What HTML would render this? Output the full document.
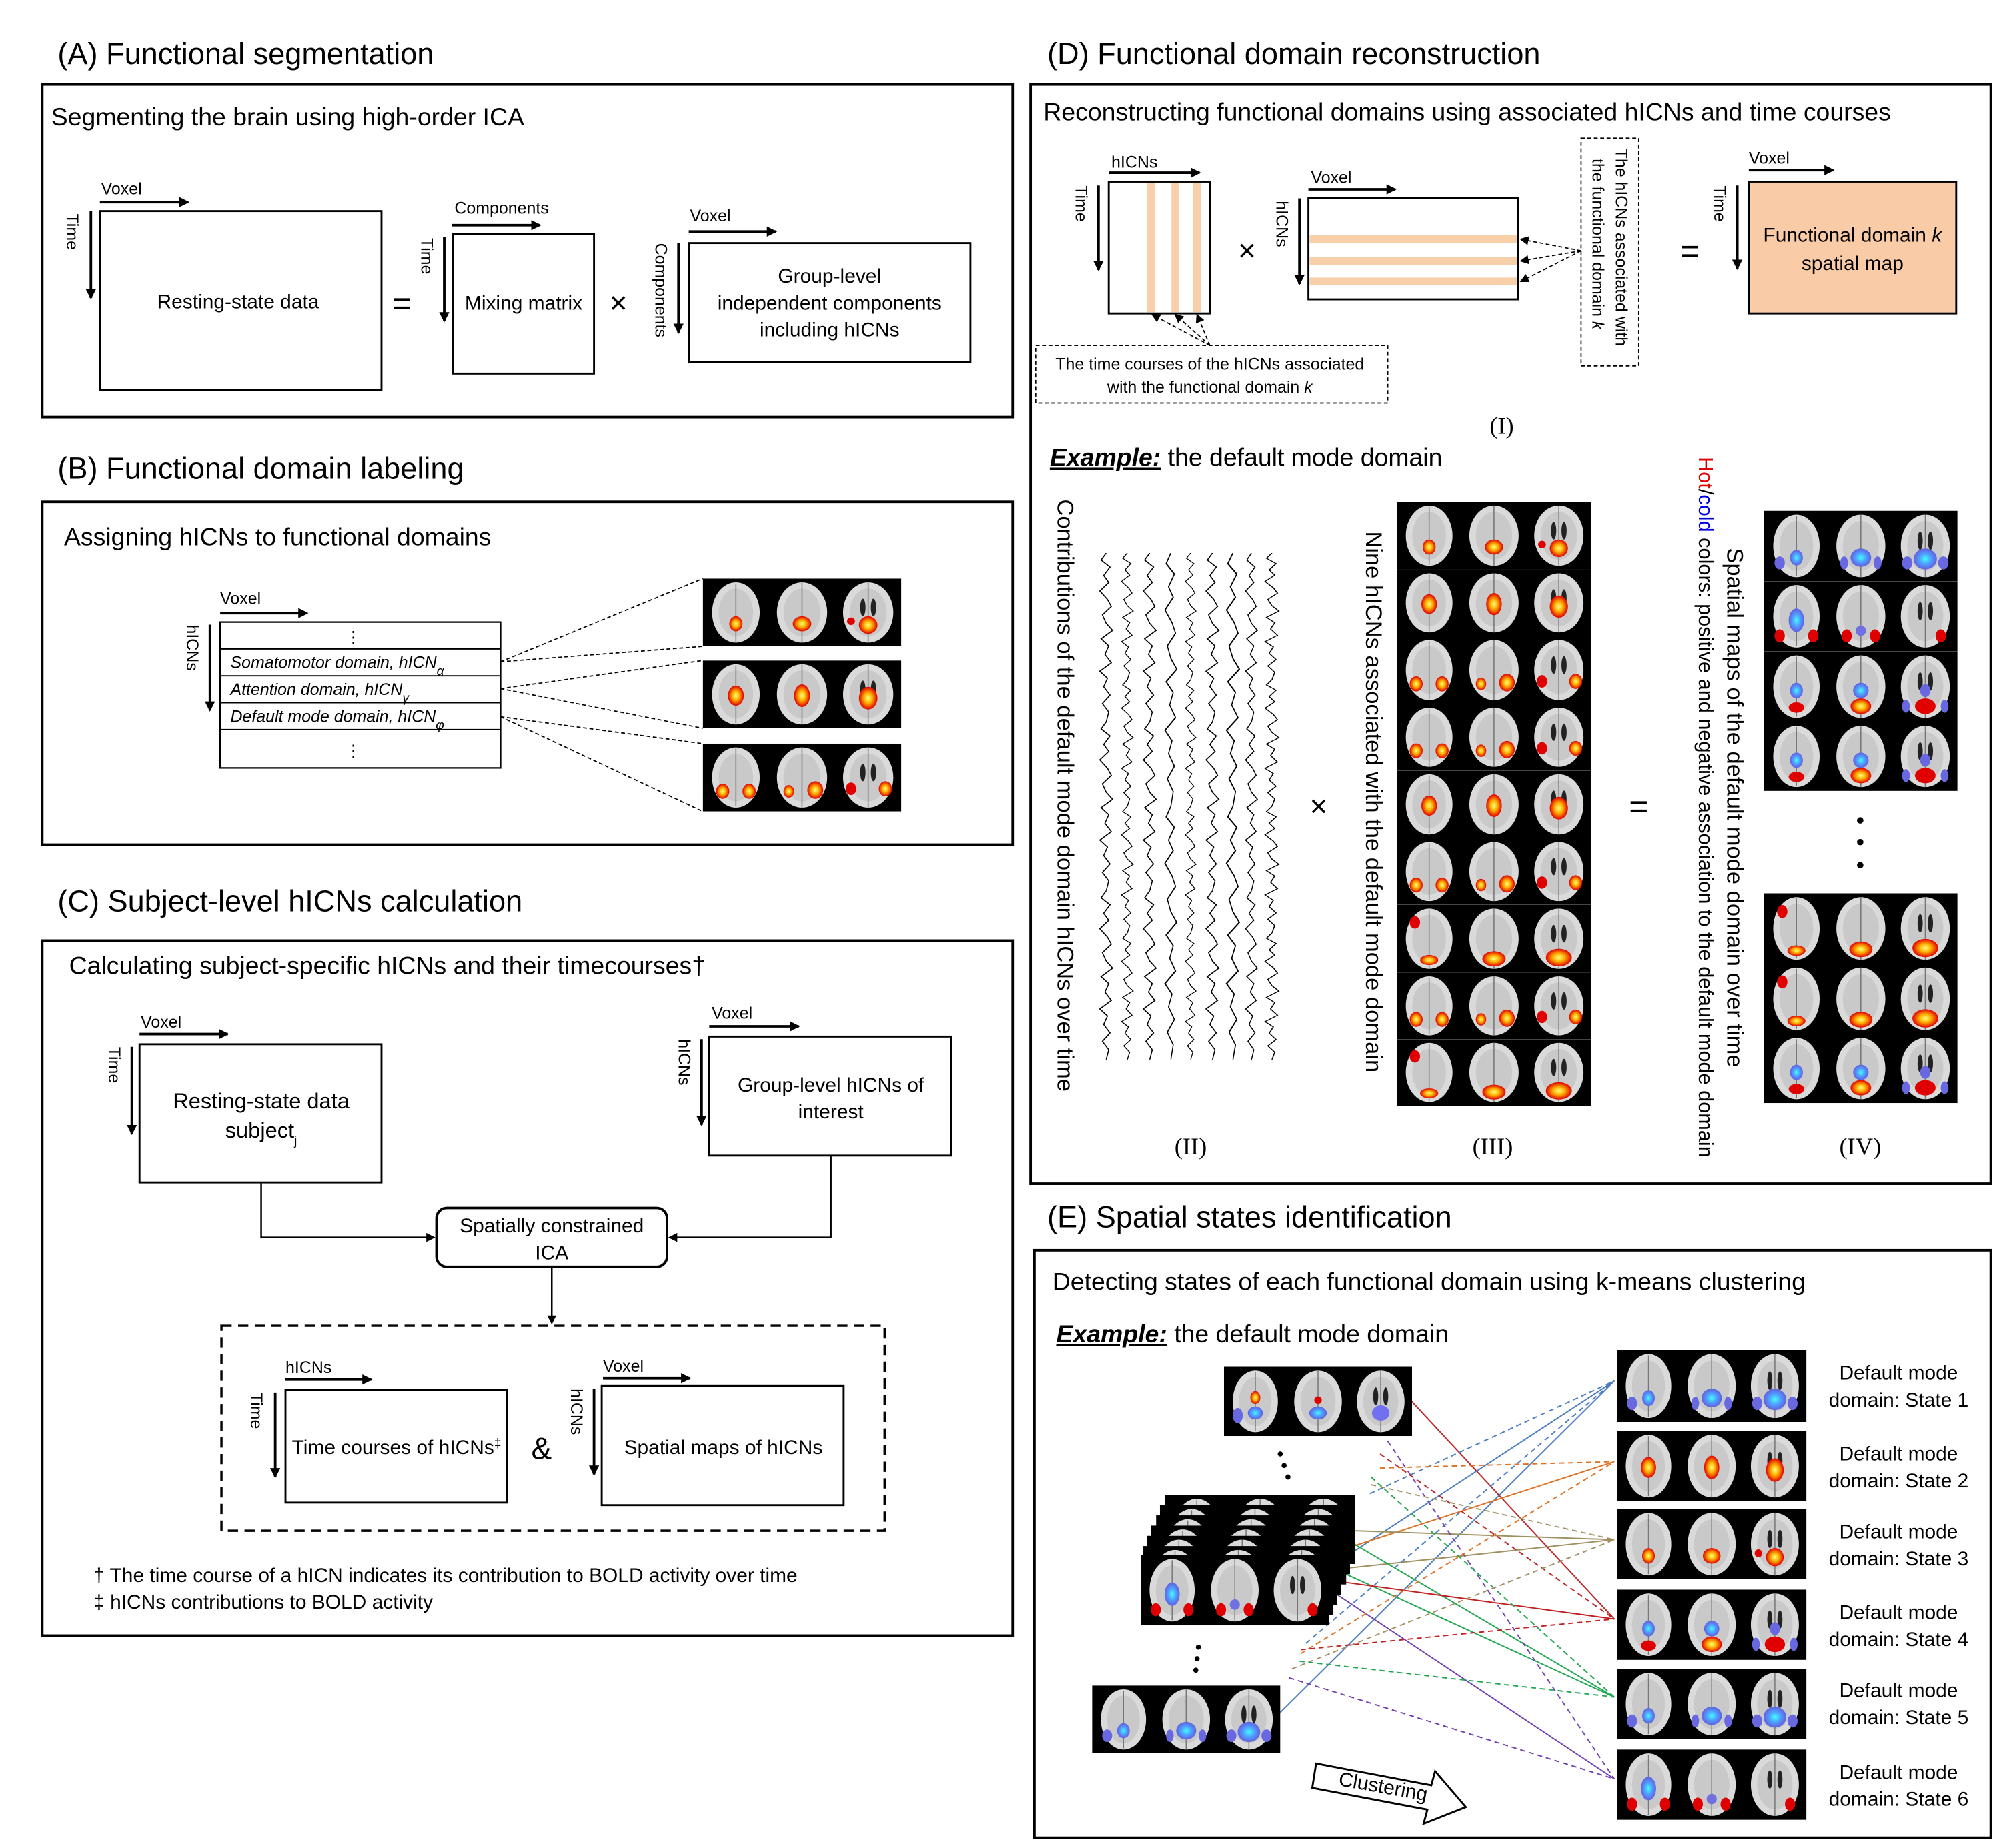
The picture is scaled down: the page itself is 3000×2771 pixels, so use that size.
<!DOCTYPE html>
<html><head><meta charset="utf-8"><style>
html,body{margin:0;padding:0;background:#fff}
svg{display:block}
text{font-family:"Liberation Sans",sans-serif;fill:#000}
.t{font-size:23.5px}.s{font-size:19.5px}.m{font-size:15.6px}.sm{font-size:13px}
.serif{font-family:"Liberation Serif",serif;font-size:19px}
</style></head><body>
<svg xmlns="http://www.w3.org/2000/svg" xmlns:xlink="http://www.w3.org/1999/xlink" width="3000" height="2771" viewBox="0 0 1563 1444" preserveAspectRatio="none">
<defs>
<marker id="ah" markerWidth="8" markerHeight="8" refX="7" refY="4" orient="auto" markerUnits="userSpaceOnUse"><path d="M0,0 L8,4 L0,8 z" fill="#000"/></marker>
<marker id="ahs" markerWidth="7" markerHeight="7" refX="6" refY="3.5" orient="auto" markerUnits="userSpaceOnUse"><path d="M0,0 L7,3.5 L0,7 z" fill="#000"/></marker>
<radialGradient id="hot"><stop offset="0" stop-color="#ffff80"/><stop offset="0.45" stop-color="#ffb000"/><stop offset="1" stop-color="#e00000"/></radialGradient>
<radialGradient id="cold"><stop offset="0" stop-color="#40ffff"/><stop offset="0.5" stop-color="#50a0ff"/><stop offset="1" stop-color="#6060e0"/></radialGradient>
<g id="base">
<rect x="0" y="0" width="150" height="54" fill="#000"/>
<ellipse cx="25" cy="27" rx="18" ry="24" fill="#dadada"/>
<ellipse cx="75" cy="27" rx="19" ry="24" fill="#dadada"/>
<ellipse cx="125" cy="27" rx="19" ry="24" fill="#dadada"/>
<ellipse cx="25" cy="27" rx="13" ry="19" fill="#b8b8b8" opacity="0.5"/>
<ellipse cx="75" cy="27" rx="14" ry="19" fill="#b8b8b8" opacity="0.5"/>
<ellipse cx="125" cy="27" rx="14" ry="19" fill="#b8b8b8" opacity="0.5"/>
<path d="M25,4 V50 M75,3 V51 M125,3 V51" stroke="#777" stroke-width="0.8"/>
<ellipse cx="121" cy="23" rx="2" ry="7" fill="#222"/><ellipse cx="129" cy="23" rx="2" ry="7" fill="#222"/>
</g>
<symbol id="bh" viewBox="0 0 150 54" preserveAspectRatio="none"><use xlink:href="#base"/>
<ellipse cx="25" cy="36" rx="5" ry="6" fill="url(#hot)"/><ellipse cx="75" cy="36" rx="7" ry="6" fill="url(#hot)"/><ellipse cx="125" cy="37" rx="7" ry="7" fill="url(#hot)"/><ellipse cx="112" cy="34" rx="3" ry="3" fill="#e00000"/></symbol>
<symbol id="bh2" viewBox="0 0 150 54" preserveAspectRatio="none"><use xlink:href="#base"/>
<ellipse cx="15" cy="38" rx="5" ry="6" fill="url(#hot)"/><ellipse cx="35" cy="38" rx="5" ry="6" fill="url(#hot)"/><ellipse cx="85" cy="37" rx="6" ry="7" fill="url(#hot)"/><ellipse cx="65" cy="38" rx="4" ry="5" fill="url(#hot)"/><ellipse cx="138" cy="36" rx="5" ry="6" fill="url(#hot)"/><ellipse cx="112" cy="36" rx="4" ry="5" fill="#e00000"/></symbol>
<symbol id="bh3" viewBox="0 0 150 54" preserveAspectRatio="none"><use xlink:href="#base"/>
<ellipse cx="25" cy="28" rx="6" ry="8" fill="url(#hot)"/><ellipse cx="75" cy="28" rx="6" ry="9" fill="url(#hot)"/><ellipse cx="125" cy="30" rx="7" ry="9" fill="url(#hot)"/></symbol>
<symbol id="bh4" viewBox="0 0 150 54" preserveAspectRatio="none"><use xlink:href="#base"/>
<ellipse cx="25" cy="44" rx="7" ry="4" fill="url(#hot)"/><ellipse cx="75" cy="43" rx="9" ry="6" fill="url(#hot)"/><ellipse cx="125" cy="42" rx="10" ry="7" fill="url(#hot)"/><ellipse cx="14" cy="14" rx="4" ry="5" fill="#e00000"/></symbol>
<symbol id="bc" viewBox="0 0 150 54" preserveAspectRatio="none"><use xlink:href="#base"/>
<ellipse cx="25" cy="36" rx="5" ry="6" fill="url(#cold)"/><ellipse cx="75" cy="36" rx="8" ry="7" fill="url(#cold)"/><ellipse cx="125" cy="37" rx="9" ry="8" fill="url(#cold)"/><ellipse cx="111" cy="40" rx="4" ry="5" fill="#6868e0"/><ellipse cx="139" cy="40" rx="4" ry="5" fill="#6868e0"/><ellipse cx="12" cy="40" rx="4" ry="5" fill="#6868e0"/><ellipse cx="62" cy="40" rx="3" ry="5" fill="#6868e0"/><ellipse cx="88" cy="40" rx="3" ry="5" fill="#6868e0"/></symbol>
<symbol id="bm" viewBox="0 0 150 54" preserveAspectRatio="none"><use xlink:href="#base"/>
<ellipse cx="25" cy="30" rx="5" ry="6" fill="url(#cold)"/><ellipse cx="25" cy="43" rx="6" ry="4" fill="#e00000"/><ellipse cx="75" cy="30" rx="6" ry="6" fill="url(#cold)"/><ellipse cx="75" cy="42" rx="8" ry="6" fill="url(#hot)"/><ellipse cx="125" cy="30" rx="4" ry="5" fill="#6868e0"/><ellipse cx="125" cy="42" rx="8" ry="6" fill="#e00000"/><ellipse cx="110" cy="42" rx="3" ry="5" fill="#6868e0"/><ellipse cx="140" cy="42" rx="3" ry="5" fill="#6868e0"/></symbol>
<symbol id="bm2" viewBox="0 0 150 54" preserveAspectRatio="none"><use xlink:href="#base"/>
<ellipse cx="25" cy="30" rx="6" ry="9" fill="url(#cold)"/><ellipse cx="12" cy="42" rx="4" ry="5" fill="#e00000"/><ellipse cx="38" cy="42" rx="4" ry="5" fill="#e00000"/><ellipse cx="75" cy="38" rx="4" ry="4" fill="#7070e0"/><ellipse cx="64" cy="42" rx="4" ry="5" fill="#e00000"/><ellipse cx="86" cy="42" rx="4" ry="5" fill="#e00000"/><ellipse cx="137" cy="42" rx="4" ry="5" fill="#e00000"/></symbol>
<symbol id="bE1" viewBox="0 0 150 54" preserveAspectRatio="none"><use xlink:href="#base"/>
<ellipse cx="25" cy="24" rx="4" ry="5" fill="url(#hot)"/><ellipse cx="25" cy="36" rx="6" ry="5" fill="url(#cold)"/><ellipse cx="11" cy="38" rx="4" ry="6" fill="#6868e0"/><ellipse cx="75" cy="26" rx="3" ry="3" fill="#e00000"/><ellipse cx="75" cy="36" rx="7" ry="5" fill="url(#cold)"/><ellipse cx="125" cy="36" rx="7" ry="6" fill="#7070f0"/></symbol>
<symbol id="sq" viewBox="0 0 12 120" preserveAspectRatio="none">
<path d="M6,0 L2,5 L9,10 L4,16 L8,21 L1,27 L7,33 L10,38 L3,44 L6,50 L11,55 L2,61 L8,66 L5,72 L10,78 L1,84 L7,89 L4,95 L9,101 L3,107 L8,113 L6,120" fill="none" stroke="#000" stroke-width="0.8"/></symbol>
</defs>
<g fill="none" stroke="#000" stroke-width="2">
<rect x="33" y="66" width="758" height="260"/>
<rect x="78" y="165" width="220" height="140" stroke-width="1.5"/>
<rect x="354" y="183" width="110" height="109" stroke-width="1.5"/>
<rect x="538" y="190" width="220" height="93" stroke-width="1.5"/>
<rect x="33" y="392" width="758" height="268"/>
<rect x="172" y="486" width="219" height="114" stroke-width="1.2"/>
<rect x="33" y="735" width="758" height="543"/>
<rect x="109" y="816" width="189" height="108" stroke-width="1.5"/>
<rect x="554" y="810" width="189" height="93" stroke-width="1.5"/>
<rect x="341" y="944" width="180" height="46" rx="8" stroke-width="2"/>
<rect x="173" y="1036" width="518" height="160" stroke-dasharray="8,5" stroke-width="1.8"/>
<rect x="223" y="1086" width="173" height="88" stroke-width="1.5"/>
<rect x="470" y="1083" width="189" height="93" stroke-width="1.5"/>
<rect x="805" y="66" width="750" height="859"/>
<rect x="808" y="977" width="747" height="459"/>
</g>
<g stroke="#000" stroke-width="1" fill="none">
<line x1="172" y1="507" x2="391" y2="507"/><line x1="172" y1="528" x2="391" y2="528"/><line x1="172" y1="549" x2="391" y2="549"/><line x1="172" y1="570" x2="391" y2="570"/>
</g>
<g stroke="#000" stroke-width="2" marker-end="url(#ah)">
<line x1="78" y1="158" x2="147" y2="158"/><line x1="71" y1="165" x2="71" y2="233"/>
<line x1="353" y1="176" x2="422" y2="176"/><line x1="347" y1="185" x2="347" y2="251"/>
<line x1="538" y1="181" x2="606" y2="181"/><line x1="530" y1="190" x2="530" y2="260"/>
<line x1="172" y1="479" x2="240" y2="479"/><line x1="164" y1="488" x2="164" y2="555"/>
<line x1="109" y1="808" x2="178" y2="808"/><line x1="103" y1="818" x2="103" y2="886"/>
<line x1="554" y1="802" x2="624" y2="802"/><line x1="548" y1="812" x2="548" y2="879"/>
<line x1="223" y1="1078" x2="290" y2="1078"/><line x1="215" y1="1088" x2="215" y2="1154"/>
<line x1="471" y1="1077" x2="539" y2="1077"/><line x1="464" y1="1085" x2="464" y2="1152"/>
<line x1="866" y1="135" x2="937" y2="135"/><line x1="858" y1="145" x2="858" y2="211"/>
<line x1="1022" y1="148" x2="1090" y2="148"/><line x1="1015" y1="155" x2="1015" y2="222"/>
<line x1="1366" y1="133" x2="1432" y2="133"/><line x1="1357" y1="145" x2="1357" y2="210"/>
</g>
<g stroke="#000" stroke-width="1.3" fill="none">
<polyline points="204,924 204,967 339,967" marker-end="url(#ahs)"/>
<polyline points="649,903 649,967 523,967" marker-end="url(#ahs)"/>
<line x1="431" y1="990" x2="431" y2="1034" marker-end="url(#ahs)"/>
</g>
<text class="t" x="45" y="50">(A) Functional segmentation</text>
<text class="s" x="40" y="98">Segmenting the brain using high-order ICA</text>
<text class="sm" x="79" y="152">Voxel</text>
<text class="sm" transform="translate(52,167) rotate(90)">Time</text>
<text class="m" x="186" y="241" text-anchor="middle">Resting-state data</text>
<text style="font-size:26px" x="314" y="246" text-anchor="middle">=</text>
<text class="sm" x="355" y="167">Components</text>
<text class="sm" transform="translate(329,186) rotate(90)">Time</text>
<text class="m" x="409" y="242" text-anchor="middle">Mixing matrix</text>
<text style="font-size:24px" x="483" y="245" text-anchor="middle">×</text>
<text class="sm" x="539" y="173">Voxel</text>
<text class="sm" transform="translate(512,190) rotate(90)">Components</text>
<text class="m" x="648" y="221" text-anchor="middle">Group-level</text>
<text class="m" x="648" y="242" text-anchor="middle">independent components</text>
<text class="m" x="648" y="263" text-anchor="middle">including hICNs</text>
<text class="t" x="45" y="374">(B) Functional domain labeling</text>
<text class="s" x="50" y="426">Assigning hICNs to functional domains</text>
<text class="sm" x="172" y="472">Voxel</text>
<text class="sm" transform="translate(146,488) rotate(90)">hICNs</text>
<text class="sm" x="276" y="502" text-anchor="middle">⋮</text>
<text class="sm" x="180" y="522" font-style="italic">Somatomotor domain, hICN<tspan baseline-shift="sub" font-size="10">α</tspan></text>
<text class="sm" x="180" y="543" font-style="italic">Attention domain, hICN<tspan baseline-shift="sub" font-size="10">γ</tspan></text>
<text class="sm" x="180" y="564" font-style="italic">Default mode domain, hICN<tspan baseline-shift="sub" font-size="10">φ</tspan></text>
<text class="sm" x="276" y="591" text-anchor="middle">⋮</text>
<g stroke="#000" stroke-width="0.9" stroke-dasharray="3,2">
<line x1="391" y1="517" x2="549" y2="452"/><line x1="391" y1="517" x2="549" y2="505"/>
<line x1="391" y1="538" x2="549" y2="516"/><line x1="391" y1="538" x2="549" y2="569"/>
<line x1="391" y1="560" x2="549" y2="581"/><line x1="391" y1="560" x2="549" y2="634"/>
</g>
<use xlink:href="#bh" x="549" y="452" width="155" height="53"/>
<use xlink:href="#bh3" x="549" y="516" width="155" height="53"/>
<use xlink:href="#bh2" x="549" y="581" width="155" height="53"/>
<text class="t" x="45" y="712">(C) Subject-level hICNs calculation</text>
<text class="s" x="54" y="761">Calculating subject-specific hICNs and their timecourses†</text>
<text class="sm" x="110" y="803">Voxel</text>
<text class="sm" transform="translate(85,818) rotate(90)">Time</text>
<text class="m" x="204" y="866" text-anchor="middle" style="font-size:17px">Resting-state data</text>
<text class="m" x="204" y="889" text-anchor="middle" style="font-size:17px">subject<tspan baseline-shift="sub" font-size="10">j</tspan></text>
<text class="sm" x="556" y="796">Voxel</text>
<text class="sm" transform="translate(530,812) rotate(90)">hICNs</text>
<text class="m" x="649" y="853" text-anchor="middle">Group-level hICNs of</text>
<text class="m" x="649" y="874" text-anchor="middle">interest</text>
<text class="m" x="431" y="963" text-anchor="middle">Spatially constrained</text>
<text class="m" x="431" y="984" text-anchor="middle">ICA</text>
<text class="sm" x="223" y="1073">hICNs</text>
<text class="sm" transform="translate(196,1088) rotate(90)">Time</text>
<text class="m" x="228" y="1136">Time courses of hICNs<tspan baseline-shift="super" font-size="10">‡</tspan></text>
<text style="font-size:24px" x="423" y="1140" text-anchor="middle">&amp;</text>
<text class="sm" x="471" y="1072">Voxel</text>
<text class="sm" transform="translate(446,1085) rotate(90)">hICNs</text>
<text class="m" x="565" y="1136" text-anchor="middle">Spatial maps of hICNs</text>
<text class="m" x="73" y="1236">† The time course of a hICN indicates its contribution to BOLD activity over time</text>
<text class="m" x="73" y="1257">‡ hICNs contributions to BOLD activity</text>
<!-- Panel D -->
<text class="t" x="818" y="50">(D) Functional domain reconstruction</text>
<text class="s" x="815" y="94">Reconstructing functional domains using associated hICNs and time courses</text>
<text class="sm" x="868" y="131">hICNs</text>
<text class="sm" transform="translate(840,145) rotate(90)">Time</text>
<rect x="866" y="142" width="79" height="103" fill="#fff" stroke="#000" stroke-width="1.5"/>
<g fill="#f7cfa8"><rect x="896" y="143" width="6" height="101"/><rect x="915" y="143" width="6" height="101"/><rect x="932" y="143" width="6" height="101"/></g>
<text style="font-size:24px" x="974" y="204" text-anchor="middle">×</text>
<text class="sm" x="1024" y="143">Voxel</text>
<text class="sm" transform="translate(997,157) rotate(90)">hICNs</text>
<rect x="1022" y="155" width="164" height="79" fill="#fff" stroke="#000" stroke-width="1.5"/>
<g fill="#f7cfa8"><rect x="1023" y="184" width="162" height="6"/><rect x="1023" y="201" width="162" height="6"/><rect x="1023" y="217" width="162" height="6"/></g>
<rect x="1235" y="108" width="45" height="178" fill="none" stroke="#000" stroke-width="0.9" stroke-dasharray="3,2"/>
<text class="sm" transform="translate(1262,116) rotate(90)">The hICNs associated with</text>
<text class="sm" transform="translate(1244,124) rotate(90)">the functional domain <tspan font-style="italic">k</tspan></text>
<g stroke="#000" stroke-width="0.9" stroke-dasharray="3,2" marker-end="url(#ahs)">
<line x1="1235" y1="196" x2="1188" y2="187"/><line x1="1235" y1="196" x2="1188" y2="204"/><line x1="1235" y1="196" x2="1188" y2="220"/>
<line x1="945" y1="270" x2="900" y2="246"/><line x1="945" y1="270" x2="918" y2="246"/><line x1="945" y1="270" x2="935" y2="246"/>
</g>
<rect x="809" y="270" width="275" height="45" fill="none" stroke="#000" stroke-width="0.9" stroke-dasharray="3,2"/>
<text class="sm" x="945" y="289" text-anchor="middle">The time courses of the hICNs associated</text>
<text class="sm" x="945" y="307" text-anchor="middle">with the functional domain <tspan font-style="italic">k</tspan></text>
<text style="font-size:26px" x="1320" y="205" text-anchor="middle">=</text>
<text class="sm" x="1366" y="128">Voxel</text>
<text class="sm" transform="translate(1339,145) rotate(90)">Time</text>
<rect x="1366" y="142" width="162" height="103" fill="#f9cba6" stroke="#000" stroke-width="1.5"/>
<text class="m" x="1447" y="189" text-anchor="middle">Functional domain <tspan font-style="italic">k</tspan></text>
<text class="m" x="1447" y="211" text-anchor="middle">spatial map</text>
<text class="serif" x="1173" y="339" text-anchor="middle">(I)</text>
<text class="s" x="820" y="364"><tspan font-weight="bold" font-style="italic" text-decoration="underline">Example:</tspan> the default mode domain</text>
<text class="s" transform="translate(826,390) rotate(90)" style="font-size:18px">Contributions of the default mode domain hICNs over time</text>
<!-- time series -->
<use xlink:href="#sq" x="858" y="432" width="12" height="132"/><use xlink:href="#sq" x="858" y="564" width="12" height="132"/><use xlink:href="#sq" x="858" y="696" width="12" height="132"/>
<use xlink:href="#sq" x="875" y="432" width="11" height="99"/><use xlink:href="#sq" x="875" y="531" width="11" height="99"/><use xlink:href="#sq" x="875" y="630" width="11" height="99"/><use xlink:href="#sq" x="875" y="729" width="11" height="99"/>
<use xlink:href="#sq" x="892" y="432" width="12" height="132"/><use xlink:href="#sq" x="892" y="564" width="12" height="132"/><use xlink:href="#sq" x="892" y="696" width="12" height="132"/>
<use xlink:href="#sq" x="909" y="432" width="11" height="198"/><use xlink:href="#sq" x="909" y="630" width="11" height="198"/>
<use xlink:href="#sq" x="925" y="432" width="10" height="99"/><use xlink:href="#sq" x="925" y="531" width="10" height="99"/><use xlink:href="#sq" x="925" y="630" width="10" height="99"/><use xlink:href="#sq" x="925" y="729" width="10" height="99"/>
<use xlink:href="#sq" x="941" y="432" width="12" height="132"/><use xlink:href="#sq" x="941" y="564" width="12" height="132"/><use xlink:href="#sq" x="941" y="696" width="12" height="132"/>
<use xlink:href="#sq" x="957" y="432" width="12" height="198"/><use xlink:href="#sq" x="957" y="630" width="12" height="198"/>
<use xlink:href="#sq" x="972" y="432" width="11" height="132"/><use xlink:href="#sq" x="972" y="564" width="11" height="132"/><use xlink:href="#sq" x="972" y="696" width="11" height="132"/>
<use xlink:href="#sq" x="987" y="432" width="13" height="99"/><use xlink:href="#sq" x="987" y="531" width="13" height="99"/><use xlink:href="#sq" x="987" y="630" width="13" height="99"/><use xlink:href="#sq" x="987" y="729" width="13" height="99"/>
<text class="serif" x="930" y="902" text-anchor="middle">(II)</text>
<text style="font-size:24px" x="1030" y="638" text-anchor="middle">×</text>
<text class="s" transform="translate(1067,415) rotate(90)" style="font-size:18px">Nine hICNs associated with the default mode domain</text>
<use xlink:href="#bh" x="1091" y="392" width="152" height="53"/>
<use xlink:href="#bh3" x="1091" y="445" width="152" height="52"/>
<use xlink:href="#bh2" x="1091" y="497" width="152" height="53"/>
<use xlink:href="#bh2" x="1091" y="550" width="152" height="52"/>
<use xlink:href="#bh3" x="1091" y="602" width="152" height="53"/>
<use xlink:href="#bh2" x="1091" y="655" width="152" height="52"/>
<use xlink:href="#bh4" x="1091" y="707" width="152" height="53"/>
<use xlink:href="#bh2" x="1091" y="760" width="152" height="52"/>
<use xlink:href="#bh4" x="1091" y="812" width="152" height="52"/>
<text class="serif" x="1166" y="902" text-anchor="middle">(III)</text>
<text style="font-size:26px" x="1280" y="639" text-anchor="middle">=</text>
<text style="font-size:16px" transform="translate(1327,357) rotate(90)"><tspan style="fill:#e00000">Hot</tspan>/<tspan style="fill:#0000e0">cold</tspan> colors: positive and negative association to the default mode domain</text>
<text class="s" transform="translate(1349,428) rotate(90)" style="font-size:18px">Spatial maps of the default mode domain over time</text>
<use xlink:href="#bc" x="1378" y="399" width="151" height="55"/>
<use xlink:href="#bm2" x="1378" y="454" width="151" height="55"/>
<use xlink:href="#bm" x="1378" y="509" width="151" height="55"/>
<use xlink:href="#bm" x="1378" y="564" width="151" height="54"/>
<g fill="#000"><circle cx="1453" cy="641" r="2.5"/><circle cx="1453" cy="658" r="2.5"/><circle cx="1453" cy="676" r="2.5"/></g>
<use xlink:href="#bh4" x="1378" y="698" width="151" height="55"/>
<use xlink:href="#bh4" x="1378" y="753" width="151" height="55"/>
<use xlink:href="#bm" x="1378" y="808" width="151" height="54"/>
<text class="serif" x="1453" y="902" text-anchor="middle">(IV)</text>
<!-- Panel E -->
<text class="t" x="818" y="959">(E) Spatial states identification</text>
<text class="s" x="822" y="1008">Detecting states of each functional domain using k-means clustering</text>
<text class="s" x="825" y="1049"><tspan font-weight="bold" font-style="italic" text-decoration="underline">Example:</tspan> the default mode domain</text>
<g stroke-width="1" fill="none">
<line x1="1100" y1="1092" x2="1261" y2="1265" stroke="#c02020"/>
<line x1="1047" y1="1219" x2="1261" y2="1079" stroke="#4a7cc0"/>
<line x1="998" y1="1340" x2="1261" y2="1079" stroke="#4a7cc0"/>
<line x1="1051" y1="1210" x2="1261" y2="1142" stroke="#e07020"/>
<line x1="1058" y1="1196" x2="1261" y2="1203" stroke="#a09060"/>
<line x1="1045" y1="1226" x2="1261" y2="1203" stroke="#a09060"/>
<line x1="1052" y1="1203" x2="1261" y2="1326" stroke="#20a850"/>
<line x1="1045" y1="1227" x2="1261" y2="1326" stroke="#20a850"/>
<line x1="1041" y1="1235" x2="1261" y2="1265" stroke="#c02020"/>
<line x1="1040" y1="1243" x2="1261" y2="1390" stroke="#7040b0"/>
<g stroke-dasharray="4,3">
<line x1="1070" y1="1167" x2="1261" y2="1079" stroke="#4a7cc0"/>
<line x1="1020" y1="1284" x2="1261" y2="1079" stroke="#4a7cc0"/>
<line x1="1084" y1="1126" x2="1261" y2="1390" stroke="#7040b0"/>
<line x1="1078" y1="1136" x2="1261" y2="1265" stroke="#c02020"/>
<line x1="1078" y1="1147" x2="1261" y2="1142" stroke="#e07020"/>
<line x1="1071" y1="1154" x2="1261" y2="1326" stroke="#20a850"/>
<line x1="1071" y1="1160" x2="1261" y2="1203" stroke="#a09060"/>
<line x1="1016" y1="1292" x2="1261" y2="1142" stroke="#e07020"/>
<line x1="1016" y1="1289" x2="1261" y2="1265" stroke="#c02020"/>
<line x1="1009" y1="1304" x2="1261" y2="1203" stroke="#a09060"/>
<line x1="1015" y1="1298" x2="1261" y2="1326" stroke="#20a850"/>
<line x1="1007" y1="1311" x2="1261" y2="1390" stroke="#7040b0"/>
</g></g>
<use xlink:href="#bE1" x="956" y="1068" width="147" height="54"/>
<g fill="#000"><circle cx="1000" cy="1136" r="2"/><circle cx="1003" cy="1145" r="2"/><circle cx="1006" cy="1154" r="2"/>
<circle cx="936" cy="1287" r="2"/><circle cx="935" cy="1296" r="2"/><circle cx="934" cy="1305" r="2"/></g>
<use xlink:href="#base" transform="translate(910,1168) scale(0.99,1)"/>
<use xlink:href="#base" transform="translate(906,1176) scale(0.99,1)"/>
<use xlink:href="#base" transform="translate(903,1184) scale(0.99,1)"/>
<use xlink:href="#base" transform="translate(899,1192) scale(0.99,1)"/>
<use xlink:href="#base" transform="translate(896,1200) scale(0.99,1)"/>
<use xlink:href="#base" transform="translate(893,1208) scale(0.99,1)"/>
<use xlink:href="#bm2" x="891" y="1215" width="147" height="55"/>
<use xlink:href="#bc" x="853" y="1317" width="147" height="53"/>
<use xlink:href="#bc" x="1263" y="1055" width="148" height="56"/>
<use xlink:href="#bh3" x="1263" y="1118" width="148" height="55"/>
<use xlink:href="#bh" x="1263" y="1179" width="148" height="55"/>
<use xlink:href="#bm" x="1263" y="1242" width="148" height="55"/>
<use xlink:href="#bc" x="1263" y="1304" width="148" height="55"/>
<use xlink:href="#bm2" x="1263" y="1367" width="148" height="55"/>
<text class="m" x="1483" y="1078" text-anchor="middle">Default mode</text><text class="m" x="1483" y="1099" text-anchor="middle">domain: State 1</text>
<text class="m" x="1483" y="1141" text-anchor="middle">Default mode</text><text class="m" x="1483" y="1162" text-anchor="middle">domain: State 2</text>
<text class="m" x="1483" y="1202" text-anchor="middle">Default mode</text><text class="m" x="1483" y="1223" text-anchor="middle">domain: State 3</text>
<text class="m" x="1483" y="1265" text-anchor="middle">Default mode</text><text class="m" x="1483" y="1286" text-anchor="middle">domain: State 4</text>
<text class="m" x="1483" y="1326" text-anchor="middle">Default mode</text><text class="m" x="1483" y="1347" text-anchor="middle">domain: State 5</text>
<text class="m" x="1483" y="1390" text-anchor="middle">Default mode</text><text class="m" x="1483" y="1411" text-anchor="middle">domain: State 6</text>
<path d="M1028,1378 L1118,1395 L1121,1384 L1145,1412 L1112,1425 L1115,1414 L1025,1397 z" fill="#fff" stroke="#000" stroke-width="1.5"/>
<text class="m" transform="translate(1045,1395) rotate(10)">Clustering</text>
</svg>
</body></html>
